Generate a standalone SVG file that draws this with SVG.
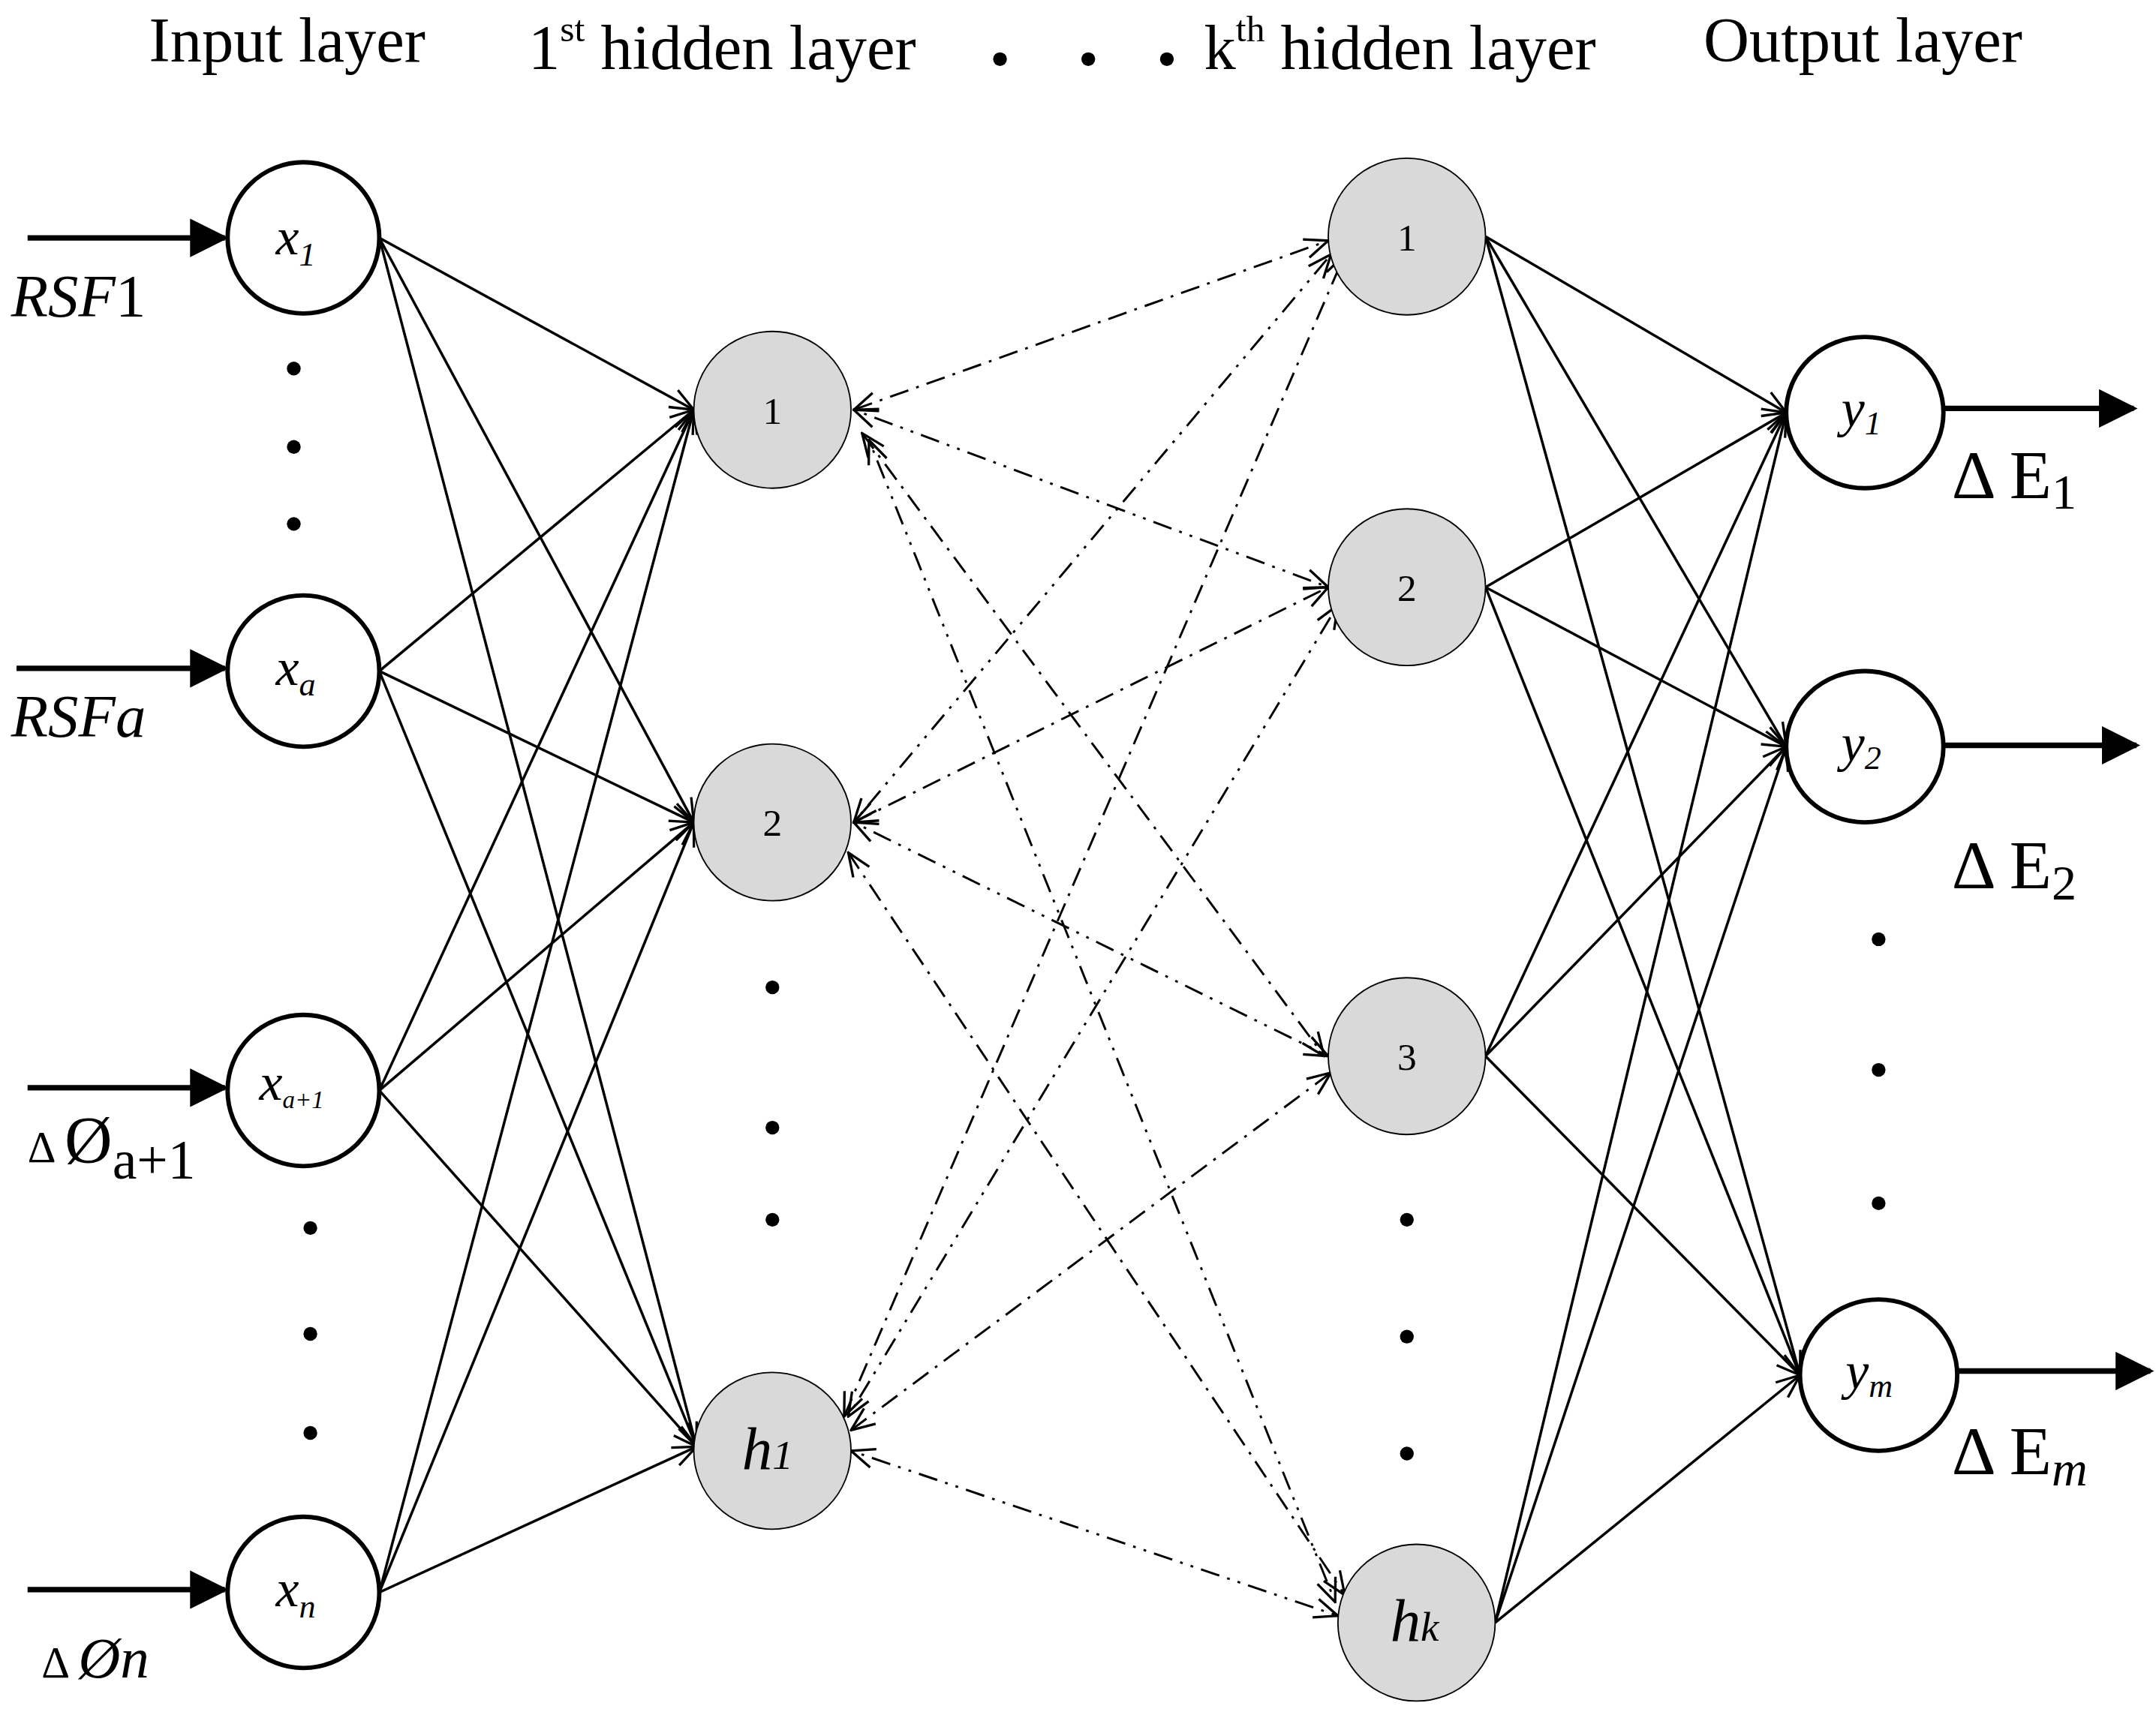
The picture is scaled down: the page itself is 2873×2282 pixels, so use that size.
<svg xmlns="http://www.w3.org/2000/svg" width="2873" height="2282" viewBox="0 0 2873 2282">
<style>
text{font-family:"Liberation Serif","Times New Roman",serif;fill:#000}
.title{font-size:46px}
.io{fill:#fff;stroke:#000;stroke-width:3.2}
.hid{fill:#d9d9d9;stroke:#000;stroke-width:1}
.sol{stroke:#000;stroke-width:1.9;fill:none;marker-end:url(#open)}
.dd{stroke:#000;stroke-width:1.6;fill:none;stroke-dasharray:14 6 2 6;marker-end:url(#open);marker-start:url(#openS)}
.ddd{stroke:#000;stroke-width:1.6;fill:none;stroke-dasharray:2 6 2 6 14 6;marker-end:url(#open);marker-start:url(#openS)}
.thick{stroke:#000;stroke-width:4;fill:none;marker-end:url(#fill)}
.dot{fill:#000}
.lbl{font-size:38px;font-style:italic}
.num{font-size:28px}
</style>
<defs>
<marker id="open" viewBox="0 0 20 20" refX="19" refY="10" markerWidth="20" markerHeight="20" markerUnits="userSpaceOnUse" orient="auto"><path d="M2,3 L19,10 L2,17" fill="none" stroke="#000" stroke-width="1.8"/></marker>
<marker id="openS" viewBox="0 0 20 20" refX="1" refY="10" markerWidth="20" markerHeight="20" markerUnits="userSpaceOnUse" orient="auto"><path d="M18,3 L1,10 L18,17" fill="none" stroke="#000" stroke-width="1.8"/></marker>
<marker id="fill" viewBox="0 0 10 10" refX="9" refY="5" markerWidth="7" markerHeight="7" orient="auto"><path d="M0,0 L10,5 L0,10 Z" fill="#000"/></marker>
</defs>
<rect width="2873" height="2282" fill="#fff"/>
<g transform="scale(1.838,1.833)">
<g id="titles">
<text class="title" x="108" y="45">Input layer</text>
<text class="title" x="383" y="50">1<tspan font-size="27" dy="-20">st</tspan><tspan dy="20"> hidden layer</tspan></text>
<circle class="dot" cx="725" cy="43" r="5"/><circle class="dot" cx="789" cy="43" r="5"/><circle class="dot" cx="846" cy="43" r="5"/>
<text class="title" x="873" y="50">k<tspan font-size="27" dy="-20">th</tspan><tspan dy="20"> hidden layer</tspan></text>
<text class="title" x="1235" y="45">Output layer</text>
</g>
<g id="connectors">
<path class="sol" d="M275,173 L503,298"/><path class="sol" d="M275,173 L503,598"/><path class="sol" d="M275,173 L505,1052"/>
<path class="sol" d="M275,488 L503,298"/><path class="sol" d="M275,488 L503,598"/><path class="sol" d="M275,488 L505,1052"/>
<path class="sol" d="M275,793 L503,298"/><path class="sol" d="M275,793 L503,598"/><path class="sol" d="M275,793 L505,1052"/>
<path class="sol" d="M275,1158 L503,298"/><path class="sol" d="M275,1158 L503,598"/><path class="sol" d="M275,1158 L505,1052"/>
<path class="dd" d="M619,298 L963,175"/><path class="ddd" d="M619,298 L963,427"/><path class="dd" d="M625,315 L960,768"/><path class="ddd" d="M630,320 L968,1165"/>
<path class="ddd" d="M619,598 L965,185"/><path class="dd" d="M619,598 L963,427"/><path class="ddd" d="M619,598 L963,768"/><path class="dd" d="M615,620 L975,1160"/>
<path class="dd" d="M612,1030 L975,185"/><path class="ddd" d="M615,1030 L970,440"/><path class="dd" d="M617,1040 L965,780"/><path class="ddd" d="M617,1055 L970,1175"/>
<path class="sol" d="M1077,172 L1295,300"/><path class="sol" d="M1077,172 L1295,543"/><path class="sol" d="M1077,172 L1305,1000"/>
<path class="sol" d="M1077,427 L1295,300"/><path class="sol" d="M1077,427 L1295,543"/><path class="sol" d="M1077,427 L1305,1000"/>
<path class="sol" d="M1077,768 L1295,300"/><path class="sol" d="M1077,768 L1295,543"/><path class="sol" d="M1077,768 L1305,1000"/>
<path class="sol" d="M1084,1180 L1295,300"/><path class="sol" d="M1084,1180 L1295,543"/><path class="sol" d="M1084,1180 L1305,1000"/>
<path class="thick" d="M20,173 L163,173"/><path class="thick" d="M12,486 L163,486"/><path class="thick" d="M20,791 L163,791"/><path class="thick" d="M20,1156 L163,1156"/>
<path class="thick" d="M1408,297 L1547,297"/><path class="thick" d="M1408,542 L1549,542"/><path class="thick" d="M1420,997 L1559,997"/>
</g>
<g id="input-labels">
<text x="8" y="230" font-size="44"><tspan font-style="italic">RSF</tspan>1</text>
<text x="8" y="536" font-size="44" font-style="italic">RSFa</text>
<text x="20" y="845" font-size="32">Δ <tspan font-size="48">Ø</tspan><tspan font-size="40" dy="12">a+1</tspan></text>
<text x="30" y="1220" font-size="32">Δ <tspan font-size="42" font-style="italic">Øn</tspan></text>
</g>
<g id="dots">
<circle class="dot" cx="213" cy="268" r="5"/><circle class="dot" cx="213" cy="325" r="5"/><circle class="dot" cx="213" cy="381" r="5"/>
<circle class="dot" cx="225" cy="893" r="5"/><circle class="dot" cx="225" cy="970" r="5"/><circle class="dot" cx="225" cy="1042" r="5"/>
<circle class="dot" cx="560" cy="718" r="5"/><circle class="dot" cx="560" cy="820" r="5"/><circle class="dot" cx="560" cy="887" r="5"/>
<circle class="dot" cx="1020" cy="887" r="5"/><circle class="dot" cx="1020" cy="972" r="5"/><circle class="dot" cx="1020" cy="1057" r="5"/>
<circle class="dot" cx="1362" cy="683" r="5"/><circle class="dot" cx="1362" cy="778" r="5"/><circle class="dot" cx="1362" cy="875" r="5"/>
</g>
<g id="x1"><ellipse class="io" cx="220" cy="173" rx="55" ry="55"/><text class="lbl" x="200" y="185">x<tspan font-size="24" dy="8">1</tspan></text></g>
<g id="xa"><ellipse class="io" cx="220" cy="488" rx="55" ry="55"/><text class="lbl" x="200" y="498">x<tspan font-size="24" dy="8">a</tspan></text></g>
<g id="xa1"><ellipse class="io" cx="220" cy="793" rx="55" ry="55"/><text class="lbl" x="188" y="800">x<tspan font-size="18" dy="6">a+1</tspan></text></g>
<g id="xn"><ellipse class="io" cx="220" cy="1158" rx="55" ry="55"/><text class="lbl" x="200" y="1168">x<tspan font-size="24" dy="8">n</tspan></text></g>
<g id="h1-1"><circle class="hid" cx="560" cy="298" r="57"/><text class="num" x="560" y="308" text-anchor="middle">1</text></g>
<g id="h1-2"><circle class="hid" cx="560" cy="598" r="57"/><text class="num" x="560" y="608" text-anchor="middle">2</text></g>
<g id="h1-h1"><circle class="hid" cx="560" cy="1055" r="57"/><text x="538" y="1068" font-size="44" font-style="italic">h<tspan font-size="30">1</tspan></text></g>
<g id="hk-1"><circle class="hid" cx="1020" cy="172" r="57"/><text class="num" x="1020" y="182" text-anchor="middle">1</text></g>
<g id="hk-2"><circle class="hid" cx="1020" cy="427" r="57"/><text class="num" x="1020" y="437" text-anchor="middle">2</text></g>
<g id="hk-3"><circle class="hid" cx="1020" cy="768" r="57"/><text class="num" x="1020" y="778" text-anchor="middle">3</text></g>
<g id="hk-hk"><circle class="hid" cx="1027" cy="1180" r="57"/><text x="1008" y="1193" font-size="44" font-style="italic">h<tspan font-size="30">k</tspan></text></g>
<g id="y1"><ellipse class="io" cx="1352" cy="300" rx="57" ry="55"/><text class="lbl" x="1335" y="310">y<tspan font-size="24" dy="6">1</tspan></text></g>
<g id="y2"><ellipse class="io" cx="1352" cy="543" rx="57" ry="55"/><text class="lbl" x="1335" y="553">y<tspan font-size="24" dy="6">2</tspan></text></g>
<g id="ym"><ellipse class="io" cx="1362" cy="1000" rx="57" ry="55"/><text class="lbl" x="1338" y="1010">y<tspan font-size="24" dy="6">m</tspan></text></g>
<g id="output-labels">
<text x="1415" y="362" font-size="50">Δ E<tspan font-size="36" dy="8">1</tspan></text>
<text x="1415" y="646" font-size="50">Δ E<tspan font-size="36" dy="8">2</tspan></text>
<text x="1415" y="1072" font-size="50">Δ E<tspan font-size="36" dy="8" font-style="italic">m</tspan></text>
</g>
</g>
</svg>
